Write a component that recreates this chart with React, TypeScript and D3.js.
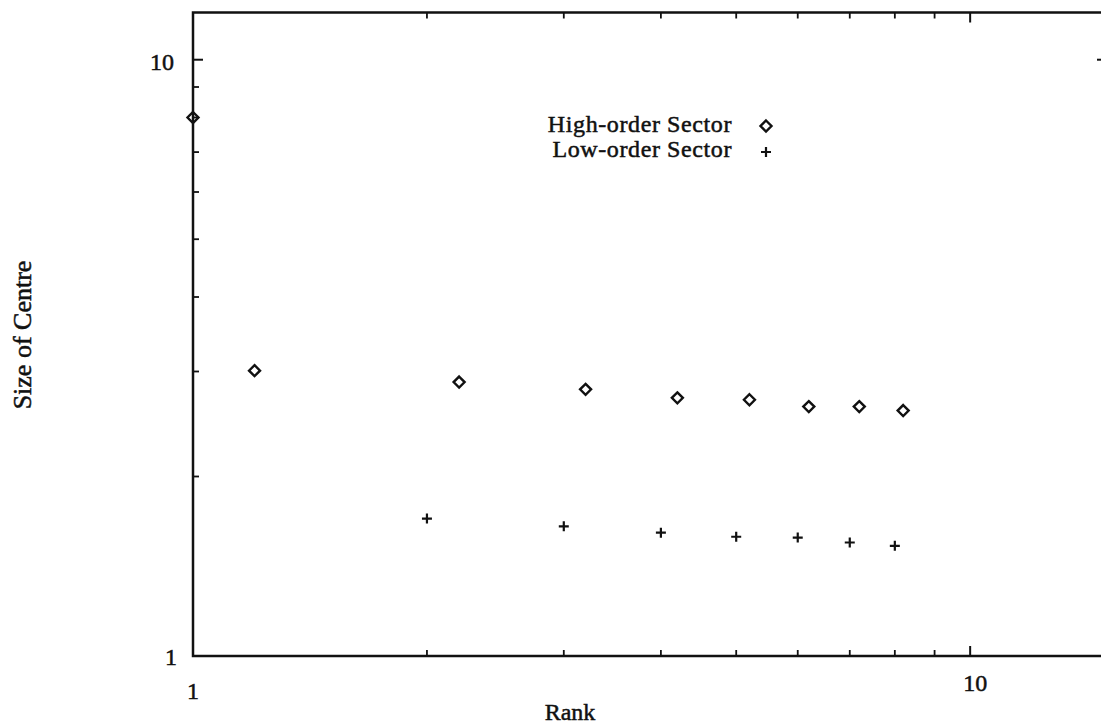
import { useEffect, useRef } from 'react';
import * as d3 from 'd3';

// Rank-size data
const highRank = [1, 1.2, 2.2, 3.2, 4.2, 5.2, 6.2, 7.2, 8.2];
const highSize = [8.0, 3.01, 2.88, 2.8, 2.71, 2.69, 2.62, 2.62, 2.58];
const lowRank = [2, 3, 4, 5, 6, 7, 8];
const lowSize = [1.7, 1.65, 1.61, 1.585, 1.58, 1.55, 1.53];

const xMajor = [1, 10];
const yMajor = [1, 10];
const minorTicks = [2, 3, 4, 5, 6, 7, 8, 9];

const legendLabels = ['High-order Sector', 'Low-order Sector'];

const FONT = '"Liberation Serif", "Times New Roman", serif';

const App = () => {
    const svgRef = useRef<SVGSVGElement>(null);

    useEffect(() => {
        if (!svgRef.current) return;
        const svg = d3.select(svgRef.current);
        svg.selectAll('*').remove();

        const left = 193, top = 12.5, bottom = 656;
        const right = 1107;

        const x = d3.scaleLog().domain([1, 15]).range([left, right]);
        const y = d3.scaleLog().domain([1, 12]).range([bottom, top]);

        const g = svg.append('g');

        // frame
        g.append('rect')
            .attr('x', left)
            .attr('y', top)
            .attr('width', right - left)
            .attr('height', bottom - top)
            .attr('fill', 'none')
            .attr('stroke', '#111')
            .attr('stroke-width', 2.5);

        // ticks on all four sides
        const tick = (x1: number, y1: number, x2: number, y2: number, w: number) =>
            g.append('line')
                .attr('x1', x1).attr('y1', y1).attr('x2', x2).attr('y2', y2)
                .attr('stroke', '#111').attr('stroke-width', w);

        xMajor.forEach(v => {
            tick(x(v), bottom, x(v), bottom - 10, 2);
            tick(x(v), top, x(v), top + 10, 2);
        });
        minorTicks.forEach(v => {
            tick(x(v), bottom, x(v), bottom - 6, 1.8);
            tick(x(v), top, x(v), top + 6, 1.8);
        });
        yMajor.forEach(v => {
            tick(left, y(v), left + 10, y(v), 2);
            tick(right, y(v), right - 10, y(v), 2);
        });
        minorTicks.forEach(v => {
            tick(left, y(v), left + 6, y(v), 1.8);
            tick(right, y(v), right - 6, y(v), 1.8);
        });

        // text helper, slightly stroked to match the heavy scan
        const text = (tx: number, ty: number, s: string, size: number, anchor = 'middle') =>
            g.append('text')
                .attr('x', tx).attr('y', ty)
                .attr('text-anchor', anchor)
                .attr('font-family', FONT)
                .attr('font-size', size)
                .attr('fill', '#111')
                .attr('stroke', '#111')
                .attr('stroke-width', 0.5)
                .text(s);

        xMajor.forEach((v, i) => {
            text(x(v) + (i ? 5 : 0), bottom + (i ? 35 : 43), String(v), 24);
        });
        yMajor.forEach((v, i) => {
            text(left - 16 - (i ? 3 : 0), y(v) + (i ? 10 : 9), String(v), 24, 'end');
        });

        // axis titles
        text(570, 720, 'Rank', 24);
        text(0, 0, 'Size of Centre', 26)
            .attr('transform', `translate(31,335) rotate(-90)`);

        // markers
        const diamond = (cx: number, cy: number) =>
            g.append('path')
                .attr('d', `M${cx},${cy - 5.5}L${cx + 5.5},${cy}L${cx},${cy + 5.5}L${cx - 5.5},${cy}Z`)
                .attr('fill', 'none')
                .attr('stroke', '#111')
                .attr('stroke-width', 2.4);
        const cross = (cx: number, cy: number) =>
            g.append('path')
                .attr('d', `M${cx - 5},${cy}H${cx + 5}M${cx},${cy - 5}V${cy + 5}`)
                .attr('stroke', '#111')
                .attr('stroke-width', 2.2);

        highRank.forEach((r, i) => diamond(x(r), y(highSize[i])));
        lowRank.forEach((r, i) => cross(x(r), y(lowSize[i])));

        // legend
        const legendX = 732, legendY = [132, 157];
        legendLabels.forEach((label, i) => {
            text(legendX, legendY[i], label, 24, 'end')
                .attr('letter-spacing', 0.6);
            if (i === 0) diamond(766, legendY[i] - 6);
            else cross(766, legendY[i] - 5);
        });
    }, []);

    return (
        <svg
            ref={svgRef}
            width={1101}
            height={725}
            style={{ position: 'absolute', top: 0, left: 0, background: '#fff' }}
        />
    );
};

export default App;
